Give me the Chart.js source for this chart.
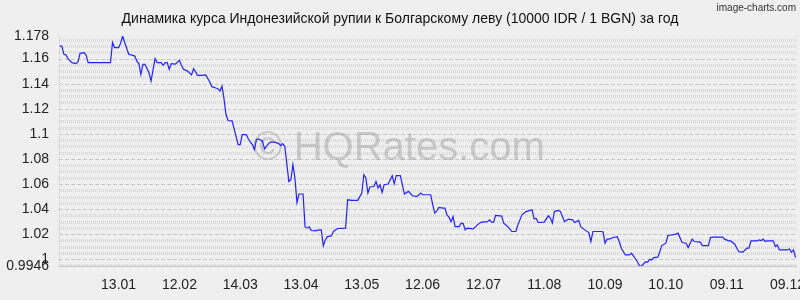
<!DOCTYPE html>
<html><head><meta charset="utf-8">
<script src="https://cdn.jsdelivr.net/npm/chart.js@4/dist/chart.umd.min.js"></script>
<style>html,body{margin:0;padding:0;background:#efefef;}canvas{display:block;}</style>
</head><body>
<canvas id="c" width="800" height="300"></canvas>
<script>
// day index (0 = 14.12 of previous year)
const days = [1,2,3,4,5,7,9,10,11,13,14,15,26,27,28,30,31,32,33,35,37,38,39,40,41,42,43,45,46,48,49,51,52,53,54,55,56,58,60,61,62,64,66,67,69,71,73,75,76,78,79,80,81,82,83,84,86,87,89,90,91,93,94,95,96,97,98,99,101,102,104,105,107,109,110,111,112,114,115,116,117,118,119,121,122,123,124,125,127,129,130,131,132,133,135,136,138,142,143,145,148,150,151,152,153,154,156,157,158,159,160,161,163,165,166,167,169,171,173,175,177,178,179,180,184,185,186,187,188,190,191,192,193,194,195,196,198,199,200,201,202,205,207,209,212,213,214,215,216,218,219,220,222,224,226,227,229,231,233,234,235,236,237,240,242,243,244,245,247,248,250,252,254,255,257,258,260,262,263,264,266,268,269,270,271,272,274,276,277,278,280,282,283,284,286,287,288,290,291,292,293,294,296,297,298,300,301,303,305,306,308,310,311,312,313,314,317,318,321,322,323,328,329,331,332,334,335,336,338,340,341,342,345,346,347,348,349,350,353,354,355,356,360,361,362,363,364];
const rates = [1.170,1.170,1.1634,1.163,1.160,1.1568,1.156,1.1576,1.1642,1.1648,1.1626,1.1568,1.1568,1.1728,1.1688,1.1688,1.1722,1.178,1.1728,1.1634,1.1626,1.162,1.158,1.156,1.1474,1.1554,1.1554,1.1488,1.142,1.160,1.1568,1.1568,1.1546,1.1568,1.1568,1.1514,1.156,1.1556,1.1586,1.1546,1.1514,1.150,1.1469,1.152,1.1466,1.1466,1.147,1.1413,1.1376,1.1365,1.136,1.1341,1.138,1.128,1.1154,1.1106,1.1104,1.104,1.0914,1.0914,1.0994,1.0994,1.096,1.0933,1.0914,1.0874,1.0954,1.096,1.0941,1.088,1.0922,1.0933,1.0933,1.0922,1.0906,1.0922,1.0901,1.062,1.0634,1.0754,1.0648,1.0453,1.052,1.052,1.026,1.0248,1.026,1.0229,1.0226,1.0234,1.0234,1.0106,1.0154,1.018,1.0186,1.0221,1.0245,1.0248,1.0474,1.0469,1.0469,1.0528,1.0674,1.0648,1.0528,1.0576,1.058,1.062,1.0568,1.0594,1.0533,1.0594,1.060,1.0666,1.0602,1.0666,1.0666,1.052,1.0541,1.0506,1.050,1.0509,1.0528,1.0514,1.0514,1.0434,1.0368,1.0386,1.0413,1.0408,1.0408,1.0354,1.0336,1.030,1.034,1.026,1.026,1.0288,1.0284,1.0234,1.0248,1.0242,1.0274,1.0296,1.030,1.0314,1.0296,1.0296,1.0349,1.0346,1.0344,1.0288,1.026,1.0221,1.0221,1.0274,1.0354,1.038,1.0389,1.0394,1.0322,1.0325,1.0293,1.0296,1.0346,1.0328,1.0288,1.038,1.0389,1.038,1.030,1.032,1.0314,1.0293,1.031,1.026,1.0234,1.0213,1.0141,1.0221,1.0221,1.0221,1.0218,1.0128,1.016,1.016,1.0173,1.018,1.0141,1.0088,1.0034,1.0034,1.0048,1.0026,0.998,0.9946,0.9946,0.998,0.9976,1.000,0.9994,1.0013,1.0016,1.006,1.0109,1.0128,1.0189,1.0194,1.020,1.0208,1.0133,1.0128,1.0093,1.0128,1.016,1.0141,1.0136,1.0109,1.0109,1.0173,1.0176,1.0176,1.016,1.0146,1.0146,1.012,1.0088,1.006,1.0056,1.0088,1.0088,1.0146,1.0146,1.0154,1.0148,1.016,1.0141,1.0146,1.0146,1.0101,1.0114,1.0074,1.0074,1.0082,1.0056,1.0074,1.0013];
const xTickDays = [30,60,90,120,150,180,210,240,270,300,330,360];
const xTickLabels = ['13.01','12.02','14.03','13.04','13.05','12.06','12.07','11.08','10.09','10.10','09.11','09.12'];
const yTickValues = [0.9946,1,1.02,1.04,1.06,1.08,1.1,1.12,1.14,1.16,1.178];
const yTickLabels = ['0.9946','1','1.02','1.04','1.06','1.08','1.1','1.12','1.14','1.16','1.178'];
const titleText = 'Динамика курса Индонезийской рупии к Болгарскому леву (10000 IDR / 1 BGN) за год';
const brandText = 'image-charts.com';
const watermarkText = '© HQRates.com';

const FONT = '"Liberation Sans", Arial, sans-serif';

const decor = {
  id: 'decor',
  beforeDraw(chart) {
    const ctx = chart.ctx;
    ctx.save();
    ctx.fillStyle = '#efefef';
    ctx.fillRect(0, 0, chart.width, chart.height);
    ctx.restore();
  },
  beforeDatasetsDraw(chart) {
    const ctx = chart.ctx, a = chart.chartArea, y = chart.scales.y;
    ctx.save();
    for (let k = 199; k <= 235; k++) {
      const v = k * 0.005;
      const py = Math.round(y.getPixelForValue(v)) + 0.5;
      if (py < a.top - 1 || py > a.bottom + 1) continue;
      ctx.beginPath();
      if (k % 4 === 0) {
        ctx.strokeStyle = '#c8c8c8'; ctx.lineWidth = 1; ctx.setLineDash([4, 2]);
      } else {
        ctx.strokeStyle = '#d9d9d9'; ctx.lineWidth = 3; ctx.setLineDash([1, 1]);
      }
      ctx.moveTo(a.left, py); ctx.lineTo(a.right, py); ctx.stroke();
    }
    ctx.setLineDash([]);
    ctx.strokeStyle = '#c8c8c8'; ctx.lineWidth = 1;
    ctx.beginPath(); ctx.moveTo(a.left, Math.round(a.bottom) + 0.5); ctx.lineTo(a.right, Math.round(a.bottom) + 0.5); ctx.stroke();
    ctx.setLineDash([1, 1]);
    ctx.beginPath(); ctx.moveTo(Math.round(a.left) + 0.5, a.top); ctx.lineTo(Math.round(a.left) + 0.5, a.bottom); ctx.stroke();
    ctx.setLineDash([]);
    ctx.font = '40px ' + FONT;
    ctx.fillStyle = 'rgba(140,140,140,0.38)';
    ctx.textAlign = 'center'; ctx.textBaseline = 'alphabetic';
    ctx.fillText(watermarkText, 399, 160);
    ctx.restore();
  },
  afterDraw(chart) {
    const ctx = chart.ctx;
    ctx.save();
    ctx.fillStyle = '#111';
    ctx.font = '14px ' + FONT;
    ctx.textAlign = 'center'; ctx.textBaseline = 'middle';
    ctx.fillText(titleText, 400, 19);
    ctx.font = '10px ' + FONT;
    ctx.fillStyle = '#333';
    ctx.textAlign = 'right';
    ctx.fillText(brandText, 796, 8);
    ctx.restore();
  }
};

new Chart(document.getElementById('c'), {
  type: 'line',
  data: {
    datasets: [{
      data: days.map((d, i) => ({ x: d, y: rates[i] })),
      borderColor: '#2222ff',
      borderWidth: 1.2,
      pointRadius: 0,
      tension: 0,
      fill: false
    }]
  },
  options: {
    responsive: false,
    animation: false,
    devicePixelRatio: 1,
    layout: { padding: { top: 36, right: 3, left: 0, bottom: 0 } },
    plugins: { legend: { display: false }, tooltip: { enabled: false }, title: { display: false } },
    scales: {
      x: {
        type: 'linear',
        min: 0.6, max: 364.7,
        grid: { display: false, drawTicks: false },
        border: { display: false },
        afterBuildTicks: s => { s.ticks = xTickDays.map(v => ({ value: v })); },
        afterFit: s => { s.height = 34; s.paddingLeft = 0; s.paddingRight = 0; },
        ticks: {
          autoSkip: false, maxRotation: 0, padding: 11,
          color: '#222', font: { family: FONT, size: 14 },
          callback: (v, i) => xTickLabels[i]
        }
      },
      y: {
        min: 0.9946, max: 1.178,
        grid: { display: false, drawTicks: false },
        border: { display: false },
        afterBuildTicks: s => { s.ticks = yTickValues.map(v => ({ value: v })); },
        afterFit: s => { s.width = 59; s.paddingTop = 0; s.paddingBottom = 0; },
        ticks: {
          autoSkip: false, padding: 10,
          color: '#222', font: { family: FONT, size: 14 },
          callback: (v, i) => yTickLabels[i]
        }
      }
    }
  },
  plugins: [decor]
});
</script>
</body></html>
